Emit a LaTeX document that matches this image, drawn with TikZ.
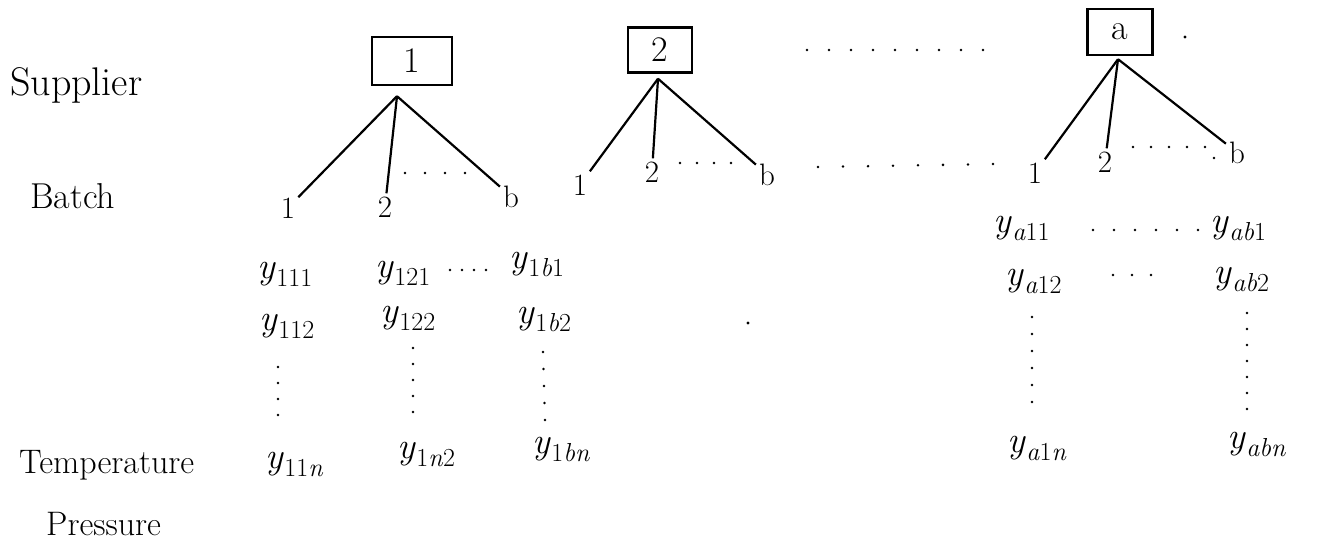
\documentclass[tikz,border=0pt]{standalone}
\usepackage{fontspec}
\newcommand{\yobs}[1]{\textit{y}\kern0.5pt\raisebox{-0.22em}{\fontsize{26}{26}\selectfont #1}}
\begin{document}
\begin{tikzpicture}[x=1pt,y=-1pt,
  word/.style={anchor=base west, inner sep=0pt, font=\fontsize{#1}{#1}\selectfont},
  supbox/.style={draw, line width=2.4pt, inner sep=0pt, font=\fontsize{36}{36}\selectfont},
  bt/.style={anchor=base, inner sep=3pt, font=\fontsize{31}{31}\selectfont},
  yv/.style={anchor=base west, inner sep=0pt, font=\fontsize{37}{37}\selectfont},
  dotrow/.style={line width=2.8pt, line cap=round, dash pattern=on 0pt off #1},
  link/.style={line width=2.2pt}]
\useasboundingbox (0,0) rectangle (1321,543);

% row labels
\node[word=40] (sup) at (10,95) {Supplier};
\node[word=36] (bat) at (30,208) {Batch};
\node[word=34] (tem) at (19,473) {Temperature};
\node[word=34] (pre) at (46,535) {Pressure};

% supplier boxes
\node[supbox, minimum width=80pt, minimum height=48pt] (s1) at (412,61) {1};
\node[supbox, minimum width=64pt, minimum height=45pt] (s2) at (660,50) {2};
\node[supbox, minimum width=65pt, minimum height=46pt] (sa) at (1120,32) {a};

\coordinate (p1) at ([xshift=-15pt,yshift=-10pt]s1.south);
\coordinate (p2) at ([xshift=-2pt,yshift=-5pt]s2.south);
\coordinate (pa) at ([xshift=-2pt,yshift=-3pt]sa.south);

% batches
\node[bt] (b11) at (288,218) {1};
\node[bt] (b12) at (385,217) {2};
\node[bt] (b1b) at (511,207) {b};
\node[bt] (b21) at (580,195) {1};
\node[bt] (b22) at (652,182) {2};
\node[bt] (b2b) at (767,185) {b};
\node[bt] (ba1) at (1035,183) {1};
\node[bt] (ba2) at (1105,172) {2};
\node[bt] (bab) at (1237,163) {b};

\draw[link] (p1) -- (b11);
\draw[link] (p1) -- (b12);
\draw[link] (p1) -- (b1b);
\draw[link] (p2) -- (b21);
\draw[link] (p2) -- (b22);
\draw[link] (p2) -- (b2b);
\draw[link] (pa) -- (ba1);
\draw[link] (pa) -- (ba2);
\draw[link] (pa) -- (bab);

% observations, supplier 1
\node[yv] (y111) at (257,278) {\yobs{111}};
\node[yv] (y121) at (375,277) {\yobs{121}};
\node[yv] (y1b1) at (509,268) {\yobs{1\textit{b}1}};
\node[yv] (y112) at (259,330) {\yobs{112}};
\node[yv] (y122) at (380,322) {\yobs{122}};
\node[yv] (y1b2) at (516,323) {\yobs{1\textit{b}2}};
\node[yv] (y11n) at (265,468) {\yobs{11\textit{n}}};
\node[yv] (y1n2) at (397,458) {\yobs{1\textit{n}2}};
\node[yv] (y1bn) at (532,453) {\yobs{1\textit{bn}}};

% observations, supplier a
\node[yv] (ya11) at (993,232) {\yobs{\textit{a}11}};
\node[yv] (yab1) at (1210,232) {\yobs{\textit{ab}1}};
\node[yv] (ya12) at (1005,285) {\yobs{\textit{a}12}};
\node[yv] (yab2) at (1213,283) {\yobs{\textit{ab}2}};
\node[yv] (ya1n) at (1007,452) {\yobs{\textit{a}1\textit{n}}};
\node[yv] (yabn) at (1227,448) {\yobs{\textit{abn}}};

% horizontal dots
\draw[dotrow=22pt] (807,50) -- (990,50);
\draw[dotrow=20pt] (405,173) -- (485,173);
\draw[dotrow=17pt] (680,163) -- (733,163);
\draw[dotrow=25pt] (818,167) -- (995,164);
\draw[dotrow=18pt] (1133,147) -- (1205,147);
\draw[dotrow=15pt] (1214,158) -- (1215,160);
\draw[dotrow=12pt] (450,270) -- (487,270);
\draw[dotrow=21pt] (1093,230) -- (1200,230);
\draw[dotrow=19pt] (1113,275) -- (1170,275);

% vertical dots
\draw[dotrow=16pt] (278,367) -- (278,431);
\draw[dotrow=16pt] (413,348) -- (413,413);
\draw[dotrow=17pt] (543,352) -- (545,420);
\draw[dotrow=17pt] (1032,317) -- (1032,403);
\draw[dotrow=16pt] (1247,313) -- (1247,410);

% stray single dots
\fill (748,323) circle (1.6pt);
\fill (1185,37) circle (1.6pt);
\end{tikzpicture}
\end{document}
